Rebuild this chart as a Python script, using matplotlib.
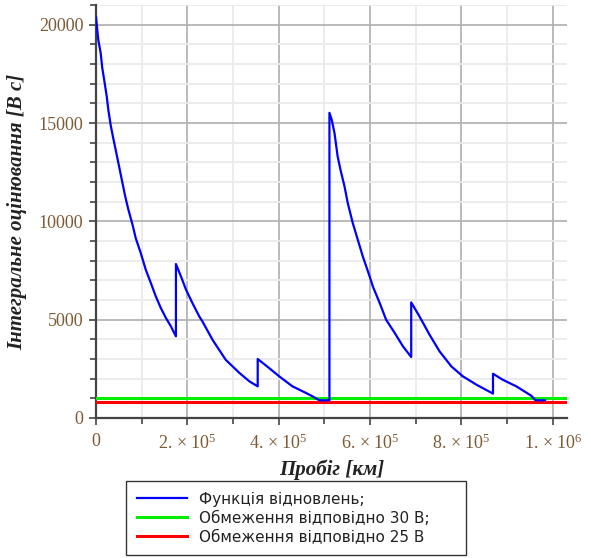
#!/usr/bin/env python3
"""Integral estimate vs. mileage with the two voltage limits."""

import matplotlib
matplotlib.use("Agg")
import matplotlib.pyplot as plt
from matplotlib.ticker import FixedLocator, FixedFormatter, MultipleLocator

# mileage, km / integral estimate, V*s
mileage = [0, 5000, 10300, 13800, 19000, 23500, 27000, 32000, 37000, 43000,
           49000, 55000, 58000, 64000, 71000, 80000, 87000, 98000, 109000,
           120000, 131000, 142000, 153000, 164000, 175000,
           175000, 186000, 197000, 211000, 226000, 233000, 255000, 284000,
           314000, 336000, 354000,
           354000, 379000, 401000, 430000, 460000, 474000, 489000, 511000,
           511000, 516000, 522000, 529000, 536000, 544000, 551000, 562000,
           573000, 584000, 599000, 606000, 621000, 635000, 654000, 672000,
           690000,
           690000, 708000, 730000, 752000, 778000, 803000, 833000, 869000,
           869000, 890000, 920000, 953000, 962000, 983000]
estimate = [20400, 19240, 18560, 17800, 17040, 16360, 15680, 14920, 14320,
            13650, 12970, 12290, 11950, 11270, 10590, 9830, 9150, 8390, 7540,
            6870, 6180, 5590, 5090, 4660, 4150,
            7830, 7200, 6530, 5850, 5170, 4910, 3980, 2960, 2290, 1860, 1610,
            3000, 2540, 2120, 1610, 1270, 1100, 900, 900,
            15520, 15170, 14500, 13300, 12540, 11780, 10940, 9920, 9070, 8220,
            7200, 6690, 5850, 5000, 4320, 3640, 3100,
            5880, 5170, 4240, 3390, 2620, 2120, 1690, 1240,
            2250, 1950, 1610, 1130, 900, 900]

limit_30v = 1000
limit_25v = 790

x_ticks = [0, 200000, 400000, 600000, 800000, 1000000]
x_tick_labels = ["0", r"2. $\times$ 10$^5$", r"4. $\times$ 10$^5$",
                 r"6. $\times$ 10$^5$", r"8. $\times$ 10$^5$",
                 r"1. $\times$ 10$^6$"]
y_ticks = [0, 5000, 10000, 15000, 20000]

legend_labels = ["Функція відновлень;", "Обмеження відповідно 30 В;",
                 "Обмеження відповідно 25 В"]

plt.rcParams["mathtext.fontset"] = "custom"
plt.rcParams["mathtext.rm"] = "Liberation Serif"
plt.rcParams["mathtext.it"] = "Liberation Serif:italic"

TICK_COLOR = "#7d5a34"

fig = plt.figure(figsize=(5.91, 5.58), dpi=100)
ax = fig.add_axes([0.1624, 0.2509, 0.797, 0.740])

l1, = ax.plot(mileage, estimate, color="#0000ff", lw=1.6, zorder=4)
l2 = ax.axhline(limit_30v, color="#00ee00", lw=2.2, zorder=3)
l3 = ax.axhline(limit_25v, color="#ff0000", lw=2.2, zorder=3)

ax.set_xlim(0, 1031000)
ax.set_ylim(0, 21000)

ax.xaxis.set_major_locator(FixedLocator(x_ticks))
ax.xaxis.set_major_formatter(FixedFormatter(x_tick_labels))
ax.xaxis.set_minor_locator(MultipleLocator(100000))
ax.yaxis.set_major_locator(FixedLocator(y_ticks))
ax.yaxis.set_minor_locator(MultipleLocator(1000))

ax.grid(which="major", color="#b4b4b4", lw=1.3, zorder=0)
ax.grid(which="minor", color="#ebebeb", lw=1.3, zorder=0)
ax.set_axisbelow(True)

for side in ("top", "right"):
    ax.spines[side].set_visible(False)
for side in ("left", "bottom"):
    ax.spines[side].set_color("#444444")
    ax.spines[side].set_linewidth(1.6)

ax.tick_params(which="both", direction="out", color="#444444", width=1.2)
ax.tick_params(which="major", length=5)
ax.tick_params(which="minor", length=4)
ax.tick_params(axis="both", labelsize=13, labelcolor=TICK_COLOR, pad=4)
ax.tick_params(axis="x", pad=6)
for lbl in ax.get_xticklabels() + ax.get_yticklabels():
    lbl.set_fontfamily("Liberation Serif")

ax.set_xlabel("Пробіг [км]", family="Liberation Serif", fontsize=15,
              fontweight="bold", style="italic", color="#222222", labelpad=5)
ax.set_ylabel("Інтегральне оцінювання [В с]", family="Liberation Serif",
              fontsize=15, fontweight="bold", style="italic", color="#222222",
              labelpad=8)

leg = fig.legend([l1, l2, l3], legend_labels, loc="lower left",
                 bbox_to_anchor=(0.213, 0.005, 0.576, 0.129), mode="expand",
                 fontsize=11, frameon=True, fancybox=False, handlelength=3.3,
                 borderaxespad=0, labelspacing=0.25, borderpad=0.7,
                 handletextpad=0.8)
leg.get_frame().set_edgecolor("#000000")
leg.get_frame().set_linewidth(1.0)
for t in leg.get_texts():
    t.set_color("#222222")

fig.savefig("out.png", dpi=100, facecolor="white")
